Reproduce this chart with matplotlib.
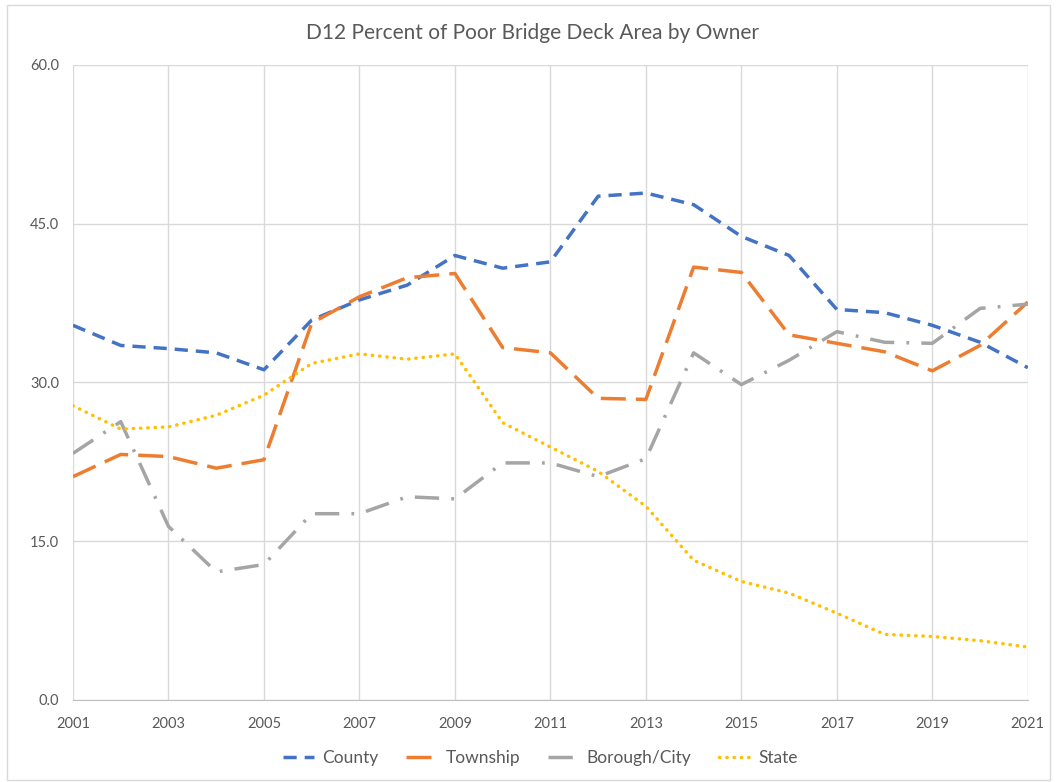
import matplotlib
matplotlib.use("Agg")
import matplotlib.pyplot as plt
from matplotlib.patches import Rectangle

years = list(range(2001, 2022))
county = [35.4, 33.5, 33.2, 32.8, 31.2, 35.9, 37.8, 39.2, 42.0, 40.8, 41.4,
          47.6, 47.9, 46.8, 43.8, 42.0, 36.9, 36.6, 35.4, 33.8, 31.4]
township = [21.1, 23.2, 23.0, 21.9, 22.7, 35.6, 38.1, 39.9, 40.3, 33.3, 32.8,
            28.5, 28.4, 40.9, 40.4, 34.5, 33.7, 32.9, 31.1, 33.5, 37.6]
borough = [23.3, 26.3, 16.4, 12.1, 12.8, 17.6, 17.6, 19.2, 19.0, 22.4, 22.4,
           21.1, 22.8, 32.8, 29.8, 32.1, 34.8, 33.8, 33.7, 37.0, 37.4]
state = [27.8, 25.6, 25.8, 26.9, 28.8, 31.8, 32.7, 32.2, 32.7, 26.2, 23.9,
         21.6, 18.3, 13.2, 11.2, 10.1, 8.2, 6.2, 6.0, 5.6, 5.0]

plt.rcParams['font.family'] = ['Lato', 'DejaVu Sans']
grey = '#595959'

fig = plt.figure(figsize=(10.64, 7.82), dpi=100)
fig.patches.append(Rectangle((0.007, 0.003), 0.98, 0.99, transform=fig.transFigure,
                             fill=False, edgecolor='#D9D9D9', linewidth=1))
ax = fig.add_axes([0.0686, 0.1049, 0.8974, 0.812])

lw = 2.5
ax.plot(years, county, color='#4472C4', lw=lw, dashes=(3.8, 2.3), label='County')
ax.plot(years, township, color='#ED7D31', lw=lw, dashes=(7.2, 2.9), label='Township')
ax.plot(years, borough, color='#A5A5A5', lw=lw, dashes=(7, 3.5, 0.8, 3.5), label='Borough/City')
ax.plot(years, state, color='#FFC000', lw=lw, linestyle=(0, (0.1, 2)),
        dash_capstyle='round', label='State')

ax.set_xlim(2001, 2021)
ax.set_ylim(0, 60)
ax.set_xticks(range(2001, 2022, 2))
ax.set_yticks([0, 15, 30, 45, 60])
ax.set_yticklabels([f"{v:.1f}" for v in [0, 15, 30, 45, 60]])
ax.grid(True, color='#D9D9D9', linewidth=1)
ax.set_axisbelow(True)
for s in ['top', 'right', 'left']:
    ax.spines[s].set_visible(False)
ax.spines['bottom'].set_color('#BFBFBF')
ax.tick_params(axis='both', length=0, colors=grey, labelsize=10.5)
ax.tick_params(axis='x', pad=12)
ax.tick_params(axis='y', pad=10)

fig.suptitle("D12 Percent of Poor Bridge Deck Area by Owner", y=0.97,
             fontsize=15, color=grey)
fig.legend(loc='lower center', bbox_to_anchor=(0.508, 0.0), ncol=4, frameon=False,
           fontsize=12.5, labelcolor=grey, handlelength=1.8, handletextpad=0.45,
           columnspacing=1.6)

fig.savefig("out.png", dpi=100)
